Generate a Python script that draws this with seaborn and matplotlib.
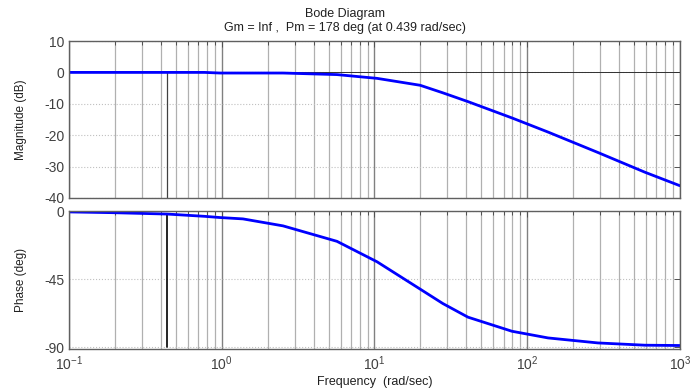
import matplotlib
matplotlib.use("Agg")
import matplotlib.pyplot as plt
import seaborn as sns
import numpy as np
import pandas as pd
from matplotlib.ticker import LogLocator, FixedLocator, NullFormatter

# ---- data ----
freq = [0.1, 0.194, 0.438, 0.77, 0.974, 1.377, 2.52, 5.68, 10.4, 19.9,
        28.0, 40.9, 79.4, 136.8, 290, 590, 1000]
magnitude_db = [0.0, 0.0, 0.0, 0.0, -0.2, -0.2, -0.2, -0.7, -1.9, -4.1,
                -6.5, -9.3, -14.5, -19.0, -25.5, -31.8, -36.1]
phase_deg = [-0.6, -1.1, -2.0, -3.5, -4.3, -5.2, -9.8, -20.0, -33.5, -51.5,
             -61.0, -70.0, -79.3, -83.7, -87.0, -88.5, -88.7]
mag_ticks = [10, 0, -10, -20, -30, -40]
phase_ticks = [0, -45, -90]
pm_freq = 0.439
pm_phase = -2.0
title_lines = ["Bode Diagram", "Gm = Inf ,  Pm = 178 deg (at 0.439 rad/sec)"]

df = pd.DataFrame({"freq": freq, "mag": magnitude_db, "phase": phase_deg})

sns.set_style("white")
plt.rcParams["font.family"] = ["Liberation Sans", "DejaVu Sans"]
plt.rcParams["axes.unicode_minus"] = False
plt.rcParams["mathtext.fontset"] = "custom"
plt.rcParams["mathtext.rm"] = "Liberation Sans"
plt.rcParams["mathtext.it"] = "Liberation Sans"
plt.rcParams["mathtext.default"] = "regular"

fig = plt.figure(figsize=(6.9, 3.92), dpi=100)
ax1 = fig.add_axes([0.1, 0.4949, 0.8855, 0.4005])
ax2 = fig.add_axes([0.1, 0.1097, 0.8855, 0.352])

for ax in (ax1, ax2):
    ax.set_xscale("log")
    ax.set_xlim(0.1, 1000)
    ax.xaxis.set_major_locator(LogLocator(base=10, numticks=10))
    ax.xaxis.set_minor_locator(LogLocator(base=10, subs=np.arange(2, 10), numticks=20))
    ax.xaxis.set_minor_formatter(NullFormatter())
    ax.grid(True, which="minor", axis="x", color="#b0b0b0", lw=0.9, ls="-")
    ax.grid(True, which="major", axis="x", color="#808080", lw=1.0, ls="-")
    ax.grid(True, which="major", axis="y", color="#c0c0c0", lw=0.8, ls=":")
    ax.set_axisbelow(True)
    ax.tick_params(which="both", direction="in", top=True, right=True,
                   colors="#505050", labelcolor="#404040", labelsize=10)
    ax.tick_params(which="major", length=4, width=0.7)
    ax.tick_params(which="minor", length=3, width=0.7)
    ax.tick_params(axis="x", pad=4)
    for sp in ax.spines.values():
        sp.set_color("#606060")
        sp.set_linewidth(1.0)

# magnitude
sns.lineplot(data=df, x="freq", y="mag", ax=ax1, color="#0000ff", lw=2.0,
             sort=False, estimator=None)
ax1.set_ylim(-40, 10)
ax1.yaxis.set_major_locator(FixedLocator(mag_ticks))
ax1.axhline(0, color="#303030", lw=0.7, zorder=1.5)
ax1.axvline(pm_freq, ymin=0, ymax=0.8, color="#404040", lw=0.9, zorder=1.5)
ax1.set_xticklabels([])
ax1.set_xlabel("")
ax1.set_ylabel("Magnitude (dB)", fontsize=8.5, color="#202020")

# phase
ax2.plot([pm_freq, pm_freq], [-90, pm_phase], color="black", lw=1.2, zorder=1.8)
sns.lineplot(data=df, x="freq", y="phase", ax=ax2, color="#0000ff", lw=2.0,
             sort=False, estimator=None)
ax2.set_ylim(-91, 0)
ax2.yaxis.set_major_locator(FixedLocator(phase_ticks))
ax2.set_xlabel("Frequency  (rad/sec)", fontsize=9, color="#202020", labelpad=2)
ax2.set_ylabel("Phase (deg)", fontsize=8.5, color="#202020")

for ax in (ax1, ax2):
    ax.yaxis.set_label_coords(-0.068, 0.5)

fig.text(0.5, 0.964, title_lines[0], ha="center", va="center", fontsize=9, color="#202020")
fig.text(0.5, 0.928, title_lines[1], ha="center", va="center", fontsize=9, color="#202020")

fig.savefig("out.png", dpi=100, facecolor="white")
